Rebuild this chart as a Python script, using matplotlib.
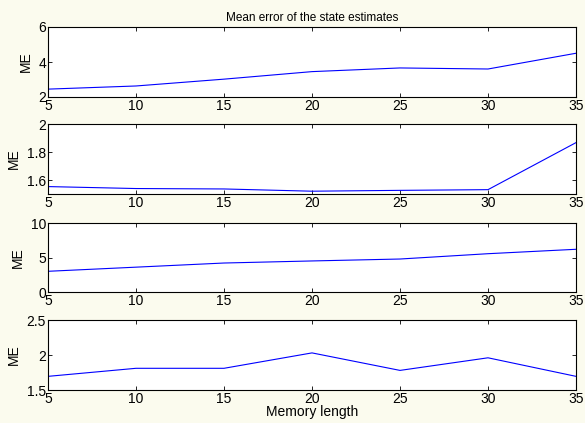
import matplotlib
matplotlib.use("Agg")
import matplotlib.pyplot as plt

plt.rcParams['font.family'] = ['Liberation Sans', 'DejaVu Sans']

## Data
memory_length = [5, 10, 15, 20, 25, 30, 35]
me_1 = [2.45, 2.63, 3.02, 3.45, 3.66, 3.60, 4.50]
me_2 = [1.553, 1.539, 1.536, 1.520, 1.526, 1.531, 1.867]
me_3 = [3.0, 3.6, 4.2, 4.5, 4.78, 5.55, 6.19]
me_4 = [1.695, 1.81, 1.81, 2.03, 1.78, 1.96, 1.695]
series = [me_1, me_2, me_3, me_4]
ylims = [(2, 6), (1.5, 2), (0, 10), (1.5, 2.5)]
yticks = [[2, 4, 6], [1.6, 1.8, 2], [0, 5, 10], [1.5, 2, 2.5]]
yticklabels = [["2", "4", "6"], ["1.6", "1.8", "2"], ["0", "5", "10"], ["1.5", "2", "2.5"]]

W, H = 585, 423
fig = plt.figure(figsize=(W / 100, H / 100), dpi=100, facecolor='#fbfbee')

# axes boxes in pixels: (top, bottom)
boxes = [(27, 97), (124, 194), (223, 292), (320, 390)]
left, right = 48, 576

for i, (y, (top, bot)) in enumerate(zip(series, boxes)):
    ax = fig.add_axes([left / W, 1 - bot / H, (right - left) / W, (bot - top) / H])
    ax.plot(memory_length, y, color='#0000ff', lw=0.8)
    ax.set_xlim(5, 35)
    ax.set_ylim(*ylims[i])
    ax.set_xticks(memory_length)
    ax.set_yticks(yticks[i])
    ax.set_yticklabels(yticklabels[i])
    ax.tick_params(direction='in', top=True, right=True, length=3, width=0.6,
                   labelsize=10, pad=1.5)
    for s in ax.spines.values():
        s.set_linewidth(0.8)
    ax.set_ylabel("ME", fontsize=10, labelpad=4)
    if i == 0:
        ax.set_title("Mean error of the state estimates", fontsize=8.5, pad=4)
    if i == 3:
        ax.set_xlabel("Memory length", fontsize=10, labelpad=-1)

fig.savefig("out.png", dpi=100, facecolor=fig.get_facecolor())
